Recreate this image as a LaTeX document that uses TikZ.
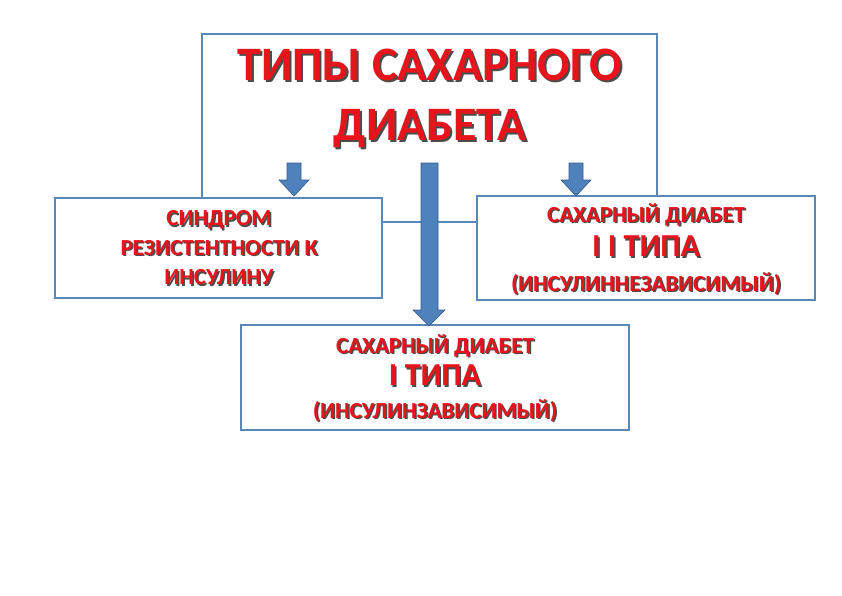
\documentclass[tikz,border=0pt]{standalone}
\usepackage{fontspec}
\setmainfont{Carlito}
\begin{document}
\begin{tikzpicture}[x=1pt,y=-1pt,
  box/.style={draw=boxc,line width=1.2pt,fill=white},
  bluearrow/.style={fill=arrc,draw=arrc!70!black,line width=0.6pt},
  lbl/.style={font=\bfseries,text=txtred,align=center}]
\definecolor{boxc}{HTML}{5B87B8}
\definecolor{arrc}{HTML}{4F81BD}
\definecolor{txtred}{HTML}{E8141C}
\useasboundingbox (0,0) rectangle (842,595);
% title box
\draw[box] (202,34) rectangle (657,222);
\node[lbl,text=black!70,font=\bfseries\fontsize{48}{60}\selectfont] at (432,100) {ТИПЫ САХАРНОГО\\ДИАБЕТА};
\node[lbl,font=\bfseries\fontsize{48}{60}\selectfont] (title) at (430,98) {ТИПЫ САХАРНОГО\\ДИАБЕТА};
% boxes
\draw[box] (55,198) rectangle (382,298);
\draw[box] (477,196) rectangle (815,300);
\draw[box] (241,325) rectangle (629,430);
\node[lbl,text=black!70,font=\bfseries\fontsize{23}{29.5}\selectfont] at (220.5,249.5) {СИНДРОМ\\РЕЗИСТЕНТНОСТИ К\\ИНСУЛИНУ};
\node[lbl,font=\bfseries\fontsize{23}{29.5}\selectfont] (left) at (219,248) {СИНДРОМ\\РЕЗИСТЕНТНОСТИ К\\ИНСУЛИНУ};
\node[lbl,text=black!70,font=\bfseries\fontsize{23}{34.5}\selectfont] at (647.5,250.5) {САХАРНЫЙ ДИАБЕТ\\{\fontsize{32}{34.5}\selectfont I I ТИПА}\\(ИНСУЛИННЕЗАВИСИМЫЙ)};
\node[lbl,font=\bfseries\fontsize{23}{34.5}\selectfont] (right) at (646,249) {САХАРНЫЙ ДИАБЕТ\\{\fontsize{32}{34.5}\selectfont I I ТИПА}\\(ИНСУЛИННЕЗАВИСИМЫЙ)};
\node[lbl,text=black!70,font=\bfseries\fontsize{23}{32.5}\selectfont] at (436.5,379.5) {САХАРНЫЙ ДИАБЕТ\\{\fontsize{32}{32.5}\selectfont I ТИПА}\\(ИНСУЛИНЗАВИСИМЫЙ)};
\node[lbl,font=\bfseries\fontsize{23}{32.5}\selectfont] (bottom) at (435,378) {САХАРНЫЙ ДИАБЕТ\\{\fontsize{32}{32.5}\selectfont I ТИПА}\\(ИНСУЛИНЗАВИСИМЫЙ)};
% arrows
\draw[bluearrow] (287,163) -- (301,163) -- (301,180) -- (309,180) -- (294,196) -- (279,180) -- (287,180) -- cycle;
\draw[bluearrow] (569,163) -- (583,163) -- (583,180) -- (591,180) -- (576,196) -- (561,180) -- (569,180) -- cycle;
\draw[bluearrow] (421,163) -- (438,163) -- (438,310) -- (445,310) -- (429,326) -- (413,310) -- (421,310) -- cycle;
\end{tikzpicture}
\end{document}
